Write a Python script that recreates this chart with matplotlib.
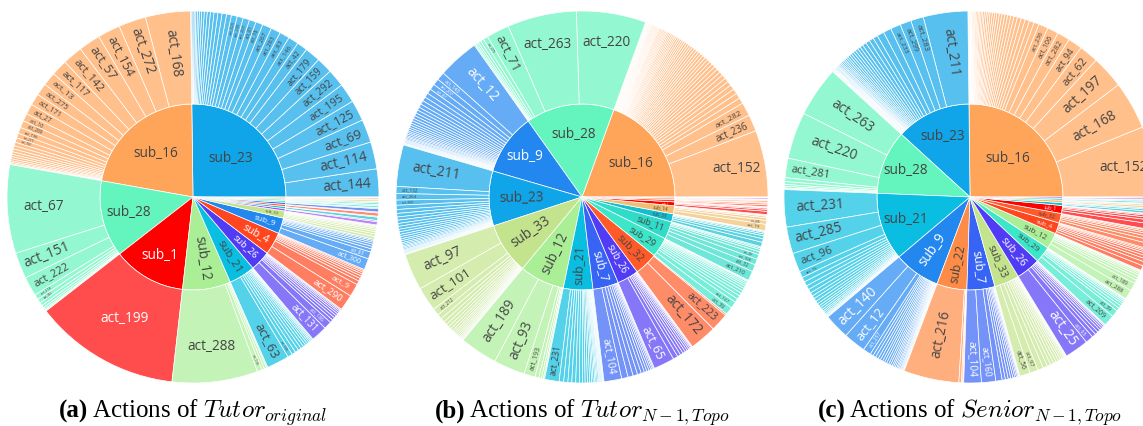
"""
Sunburst view of sub-task / action frequencies for three agents.
Inner ring = sub-tasks, outer ring = actions inside each sub-task.
"""
import math
import matplotlib
matplotlib.use("Agg")
import matplotlib.pyplot as plt
import matplotlib.colors as mcolors
from matplotlib.font_manager import FontProperties
from matplotlib.textpath import TextPath

# ─── (a) Tutor original ───────────────────────────────────────────────────────
A_SUBS = ["sub_23", "sub_16", "sub_28", "sub_1", "sub_12", "sub_21", "sub_26", "sub_4",
          "sub_9", "sub_33", "sub_2", "sub_35", "sub_32", "sub_7", "sub_29", "sub_11",
          "sub_14", "sub_22"]
A_VALUES = [
    [8.7, 8.4, 7.2, 6.5, 6.0, 5.5, 5.0, 4.8, 3.3, 3.2, 3.1, 3.0, 2.9, 2.2, 2.1, 2.0, 1.9, 1.8,
     1.5, 1.4, 1.3, 1.2, 1.1, 1.0, 0.9, 0.8, 0.7, 0.6, 0.5, 0.5, 0.4, 0.4, 0.3],
    [14.0, 8.5, 7.0, 6.8, 6.2, 5.0, 4.2, 3.8, 3.6, 3.2, 2.4, 2.2, 1.9, 1.5, 1.4,
     1.1, 1.0, 0.9, 0.8, 0.7, 0.7, 0.6, 0.5, 0.4, 0.3],
    [27.5, 8.1, 6.0, 1.6, 1.3, 1.0, 0.8, 0.6, 0.4, 0.3],
    [45.4],
    [26.6, 1.5, 0.8, 0.7, 0.4],
    [7.0, 1.5, 1.2, 1.1, 1.0, 0.9, 0.8, 0.7, 0.6, 0.5, 0.4, 0.4, 0.3],
    [5.0, 2.4, 1.0, 0.9, 0.8, 0.7, 0.6, 0.5, 0.4, 0.3],
    [5.0, 4.0, 1.2, 0.9, 0.8, 0.7, 0.6, 0.5, 0.4],
    [3.5, 2.2, 1.0, 0.8, 0.7, 0.6, 0.5, 0.4],
    [0.9, 0.8, 0.7, 0.6, 0.5, 0.4, 0.3, 0.3],
    [1.0, 0.4],
    [1.0, 0.3],
    [1.0, 0.3],
    [1.0, 0.3],
    [0.6, 0.4],
    [0.5, 0.4],
    [0.5, 0.3],
    [0.4, 0.2],
]
A_NAMES = [
    ["act_144", "act_114", "act_69", "act_125", "act_195", "act_292", "act_159", "act_179",
     "act_42", "act_146", "act_83", "act_283", "act_267", "act_78", "act_81", "act_207",
     "act_200", "act_225"],
    ["act_168", "act_272", "act_154", "act_57", "act_142", "act_117", "act_13", "act_275",
     "act_171", "act_27", "act_10", "act_289", "act_190", "act_277", "act_182"],
    ["act_67", "act_151", "act_222", "act_218", "act_285"],
    ["act_199"],
    ["act_288", "act_138"],
    ["act_63", "act_188"],
    ["act_131", "act_186"],
    ["act_290", "act_9"],
    ["act_300", "act_83"],
    [], [], ["act_241"], ["act_129"], [], [], [], [], [],
]

# ─── (b) Tutor N-1, Topo ─────────────────────────────────────────────────────
B_SUBS = ["sub_16", "sub_28", "sub_9", "sub_23", "sub_33", "sub_12", "sub_21", "sub_7",
          "sub_26", "sub_32", "sub_29", "sub_11", "sub_35", "sub_14", "sub_1", "sub_4",
          "sub_22", "sub_2"]
B_VALUES = [
    [20.7, 5.2, 4.2, 1.8, 1.7, 1.6, 1.5, 1.4, 1.3, 1.3, 1.2, 1.2, 1.1, 1.1, 1.0, 1.0,
     0.9, 0.9, 0.9, 0.8, 0.8, 0.8, 0.8, 0.7, 0.7, 0.7, 0.7, 0.6, 0.6, 0.6, 0.6, 0.6,
     0.5, 0.5, 0.5, 0.5, 0.5, 0.5, 0.4, 0.4, 0.4, 0.4, 0.4, 0.4, 0.4, 0.3, 0.3, 0.3,
     0.3, 0.3, 0.3, 0.3, 0.3, 0.3, 0.2, 0.2, 0.2, 0.2, 0.2, 0.2, 0.2, 0.2, 0.2, 0.2],
    [21.6, 21.5, 7.1, 1.5, 1.0, 0.8, 0.6, 0.5, 0.4],
    [12.8, 2.5, 2.0, 1.8, 1.5, 1.4, 1.3, 1.2, 1.1, 1.0, 1.0, 0.9, 0.9, 0.8, 0.8, 0.7,
     0.7, 0.6, 0.6, 0.5, 0.5, 0.5, 0.4, 0.4, 0.4, 0.3, 0.3, 0.3, 0.3, 0.2, 0.2, 0.2],
    [12.9, 2.2, 2.0, 1.6, 1.3, 1.2, 1.1, 1.0, 1.0, 0.9, 0.9, 0.8, 0.8, 0.7, 0.7, 0.6,
     0.6, 0.5, 0.5, 0.4, 0.4, 0.4, 0.3, 0.3, 0.3, 0.3, 0.2, 0.2],
    [11.4, 7.5, 2.2, 1.5, 1.3, 1.1, 1.0, 0.9, 0.8, 0.7, 0.6, 0.6, 0.5, 0.5, 0.4, 0.4, 0.3, 0.3],
    [11.7, 9.7, 3.5, 1.2, 0.8, 0.6, 0.4],
    [4.5, 1.4, 1.3, 1.2, 1.2, 1.1, 1.0, 0.8, 0.7, 0.7, 0.6, 0.5, 0.5, 0.4, 0.4, 0.4,
     0.3, 0.3, 0.3, 0.3, 0.2, 0.2],
    [5.5, 2.0, 1.6, 1.4, 1.2, 1.0, 0.8, 0.7, 0.6, 0.5, 0.4, 0.3],
    [6.5, 1.5, 1.0, 0.9, 0.8, 0.7, 0.6, 0.5, 0.4, 0.3, 0.2],
    [8.4, 5.6, 0.5],
    [2.4, 2.1, 1.2, 1.1, 1.0, 0.9, 0.8, 0.7, 0.6, 0.5, 0.5, 0.3, 0.2],
    [3.0, 2.2, 1.8, 1.5, 0.9, 0.7, 0.5, 0.4],
    [1.4, 1.1, 0.9, 0.6, 0.5, 0.3, 0.2],
    [2.0, 1.2, 0.8, 0.5, 0.3, 0.2],
    [1.0, 0.6, 0.4, 0.2, 0.2],
    [0.6, 0.5, 0.3],
    [0.5, 0.3, 0.2],
    [0.4, 0.2],
]
B_NAMES = [
    ["act_152", "act_236", "act_282"],
    ["act_220", "act_263", "act_71", "act_279"],
    ["act_12", "act_140", "act_207", "act_47"],
    ["act_211", "act_132", "act_264", "act_200"],
    ["act_97", "act_101", "act_212"],
    ["act_189", "act_93", "act_193"],
    ["act_231"],
    ["act_104"],
    ["act_65"],
    ["act_172", "act_223"],
    ["act_39", "act_127"],
    ["act_210", "act_32", "act_108", "act_49"],
    [],
    ["act_19", "act_286"],
    [], [], [], [],
]

# ─── (c) Senior N-1, Topo ────────────────────────────────────────────────────
C_SUBS = ["sub_16", "sub_23", "sub_28", "sub_21", "sub_9", "sub_22", "sub_7", "sub_33",
          "sub_26", "sub_29", "sub_12", "sub_4", "sub_32", "sub_1", "sub_35", "sub_14",
          "sub_11", "sub_2"]
C_VALUES = [
    [22.2, 15.1, 10.3, 6.0, 4.5, 4.0, 3.5, 3.0, 1.6, 1.5, 1.4, 1.3, 1.2, 1.1, 1.0, 1.0,
     0.9, 0.9, 0.8, 0.8, 0.7, 0.7, 0.7, 0.6, 0.6, 0.6, 0.5, 0.5, 0.5, 0.4, 0.4, 0.4,
     0.3, 0.3, 0.3, 0.3, 0.2, 0.2, 0.2, 0.2, 0.2, 0.2],
    [14.0, 4.0, 3.5, 3.2, 2.5, 2.2, 1.5, 1.4, 1.3, 1.2, 1.0, 0.9, 0.9, 0.8, 0.8, 0.7,
     0.7, 0.6, 0.6, 0.5, 0.5, 0.5, 0.4, 0.4, 0.4, 0.3, 0.3, 0.3, 0.3, 0.3, 0.2, 0.2,
     0.2, 0.2, 0.2, 0.2],
    [15.8, 14.7, 6.1, 1.2, 0.9, 0.6, 0.5, 0.3, 0.2],
    [11.7, 8.4, 6.0, 2.0, 1.5, 1.4, 1.3, 1.2, 1.1, 1.0, 1.0, 0.9, 0.8, 0.7, 0.7, 0.6,
     0.5, 0.5, 0.4, 0.3, 0.3, 0.2, 0.2],
    [8.0, 7.0, 2.5, 1.0, 0.9, 0.9, 0.8, 0.8, 0.7, 0.7, 0.7, 0.6, 0.6, 0.5, 0.5, 0.5,
     0.4, 0.4, 0.4, 0.3, 0.3, 0.3, 0.2, 0.2],
    [17.4, 0.8, 0.4, 0.3],
    [5.5, 4.5, 2.0, 1.0, 0.9, 0.8, 0.7, 0.6, 0.5, 0.4, 0.3, 0.2, 0.2],
    [3.3, 2.6, 1.8, 1.4, 1.1, 1.0, 0.9, 0.8, 0.7, 0.6, 0.5, 0.4, 0.3, 0.2, 0.2],
    [7.5, 2.5, 1.2, 1.0, 0.9, 0.7, 0.6, 0.5, 0.3, 0.2],
    [3.5, 2.2, 1.0, 0.9, 0.8, 0.6, 0.5, 0.4, 0.2, 0.2],
    [3.0, 2.5, 1.1, 0.9, 0.8, 0.6, 0.5, 0.3, 0.3],
    [1.5, 1.3, 1.0, 0.9, 0.8, 0.6, 0.5, 0.4],
    [1.6, 1.2, 1.0, 0.8, 0.6, 0.5, 0.3],
    [1.8, 1.2, 0.8, 0.6, 0.4, 0.2],
    [0.8, 0.6, 0.4],
    [0.7, 0.5, 0.3],
    [0.6, 0.4, 0.2],
    [0.5, 0.3],
]
C_NAMES = [
    ["act_152", "act_168", "act_197", "act_62", "act_94", "act_282", "act_106", "act_236"],
    ["act_211", "act_283", "act_299", "act_233"],
    ["act_263", "act_220", "act_281"],
    ["act_231", "act_285", "act_96", "act_15"],
    ["act_140", "act_12", "act_257"],
    ["act_216"],
    ["act_104", "act_160"],
    ["act_56", "act_97"],
    ["act_25", "act_65"],
    ["act_209", "act_39"],
    ["act_288", "act_189"],
    [], [], [], [], [], [], [],
]

CAPTIONS = [("(a)", r"Actions of $Tutor_{original}$"),
            ("(b)", r"Actions of $Tutor_{N-1,Topo}$"),
            ("(c)", r"Actions of $Senior_{N-1,Topo}$")]

SUB_COLORS = {
    "sub_16": "#FFA55A", "sub_23": "#10A5E8", "sub_28": "#64F5BE", "sub_1": "#FF0000",
    "sub_12": "#AAEE96", "sub_21": "#0ABEE1", "sub_26": "#503CF5", "sub_4": "#FF461E",
    "sub_9": "#2387F0", "sub_33": "#C3E48C", "sub_7": "#3764F5", "sub_32": "#FF5A28",
    "sub_29": "#3CE6C8", "sub_11": "#30DCC8", "sub_35": "#14BED2", "sub_14": "#F0BE6E",
    "sub_22": "#FF8C46", "sub_2": "#9B50F5",
}

# ─── layout / style ──────────────────────────────────────────────────────────
W, H, DPI = 1143, 426, 100
R_OUTER, R_INNER = 186, 93
CENTERS_X = [193, 582, 970]
CENTER_Y = 197
LABEL_PROP = FontProperties(family="Open Sans")
MAX_PX = 13.6          # label font size in px before shrinking
BB_H = 1.36            # text box height / font size
TEXT_PAD = 3
EDGE_LW = 0.5
DARK = "#444444"
CAP_PT = 18

plt.rcParams["mathtext.fontset"] = "cm"

_widths = {}


def text_w(s):
    """width of s at a font size of 1 px"""
    if s not in _widths:
        _widths[s] = TextPath((0, 0), s, size=1, prop=LABEL_PROP).get_extents().width
    return _widths[s]


def px2pt(px):
    return px * 72 / DPI


def leaf_color(c, alpha=0.7):
    r, g, b = mcolors.to_rgb(c)
    return (1 - alpha + alpha * r, 1 - alpha + alpha * g, 1 - alpha + alpha * b)


def text_color(c):
    r, g, b = mcolors.to_rgb(c)
    return "white" if (299 * r + 587 * g + 114 * b) * 255 / 1000 < 128 else DARK


def place_label(ax, s, t1, t2, r0, r1, color):
    """horizontal text if it fits the inscribed circle, else radial (largest wins)"""
    if not s:
        return
    tw, th = text_w(s) * MAX_PX, BB_H * MAX_PX
    half = math.radians(t2 - t1) / 2
    phi = math.radians((t1 + t2) / 2)
    sn = math.sin(min(half, math.pi / 2))

    # inscribed circle of the annular sector
    rho, rc = r1 * sn / (1 + sn), r1 / (1 + sn)
    if rc - rho < r0:
        rho, rc = (r1 - r0) / 2, (r1 + r0) / 2
    h_scale = min(1.0, 2 * rho / math.hypot(tw, th))

    # radial transform
    r = max(0.0, r1 - 2 * TEXT_PAD)
    ring = (r1 - r0) / r1
    a = tw / th
    q = a + 1 / (2 * math.tan(half))
    hs = r * min(1 / (math.sqrt(q * q + 0.5) + q), ring / (math.sqrt(a * a + ring / 2) + a))
    r_scale = min(1.0, 2 * hs / th)

    if h_scale >= 1 or h_scale >= r_scale:
        f = MAX_PX * h_scale
        if f < 2.5:
            return
        ax.text(rc * math.cos(phi), rc * math.sin(phi), s, fontproperties=LABEL_PROP,
                fontsize=px2pt(f), color=color, ha="center", va="center")
        return

    f = MAX_PX * r_scale
    if f < 2.5:
        return
    w = tw * r_scale
    c = max(hs / math.tan(half) + a * hs, r0 + TEXT_PAD + w / 2)
    c = min(c, r1 - TEXT_PAD - w / 2)
    rot = math.degrees(phi)
    if math.cos(phi) < 0:
        rot -= 180
    ax.text(c * math.cos(phi), c * math.sin(phi), s, fontproperties=LABEL_PROP,
            fontsize=px2pt(f), color=color, rotation=rot, rotation_mode="anchor",
            ha="center", va="center")


def draw_sunburst(ax, subs, values, names):
    base = [SUB_COLORS[s] for s in subs]
    totals = [sum(v) for v in values]
    inner, _ = ax.pie(totals, radius=R_INNER, colors=base, startangle=0, counterclock=True,
                      wedgeprops=dict(edgecolor="white", linewidth=EDGE_LW))

    leaf_vals, leaf_cols, leaf_names, leaf_tc = [], [], [], []
    for c, vals, nms in zip(base, values, names):
        nms = nms + [""] * (len(vals) - len(nms))
        leaf_vals += vals
        leaf_cols += [leaf_color(c)] * len(vals)
        leaf_names += nms
        leaf_tc += [text_color(c)] * len(vals)
    outer, _ = ax.pie(leaf_vals, radius=R_OUTER, colors=leaf_cols, startangle=0,
                      counterclock=True,
                      wedgeprops=dict(width=R_OUTER - R_INNER, edgecolor="white",
                                      linewidth=EDGE_LW))

    for wdg, s, c in zip(inner, subs, base):
        place_label(ax, s, wdg.theta1, wdg.theta2, 0, R_INNER, text_color(c))
    for wdg, s, tc in zip(outer, leaf_names, leaf_tc):
        place_label(ax, s, wdg.theta1, wdg.theta2, R_INNER, R_OUTER, tc)

    ax.set_xlim(-200, 200)
    ax.set_ylim(-200, 200)
    ax.set_aspect("equal")
    ax.axis("off")


def caption(fig, cx, tag, body):
    rend = fig.canvas.get_renderer()
    y = (H - 418) / H
    t1 = fig.text(0, y, tag, family="Liberation Serif", fontweight="bold", fontsize=CAP_PT,
                  va="baseline")
    t2 = fig.text(0, y, body, family="Liberation Serif", fontsize=CAP_PT, va="baseline")
    w1 = t1.get_window_extent(rend).width
    w2 = t2.get_window_extent(rend).width
    gap = 4
    x0 = cx - (w1 + gap + w2) / 2
    t1.set_x(x0 / W)
    t2.set_x((x0 + w1 + gap) / W)


fig = plt.figure(figsize=(W / DPI, H / DPI), dpi=DPI)
charts = [(A_SUBS, A_VALUES, A_NAMES), (B_SUBS, B_VALUES, B_NAMES), (C_SUBS, C_VALUES, C_NAMES)]
for cx, (subs, vals, nms) in zip(CENTERS_X, charts):
    ax = fig.add_axes([(cx - 200) / W, (H - CENTER_Y - 200) / H, 400 / W, 400 / H])
    draw_sunburst(ax, subs, vals, nms)

for cx, (tag, body) in zip(CENTERS_X, CAPTIONS):
    caption(fig, cx, tag, body)

fig.savefig("out.png", dpi=DPI)
